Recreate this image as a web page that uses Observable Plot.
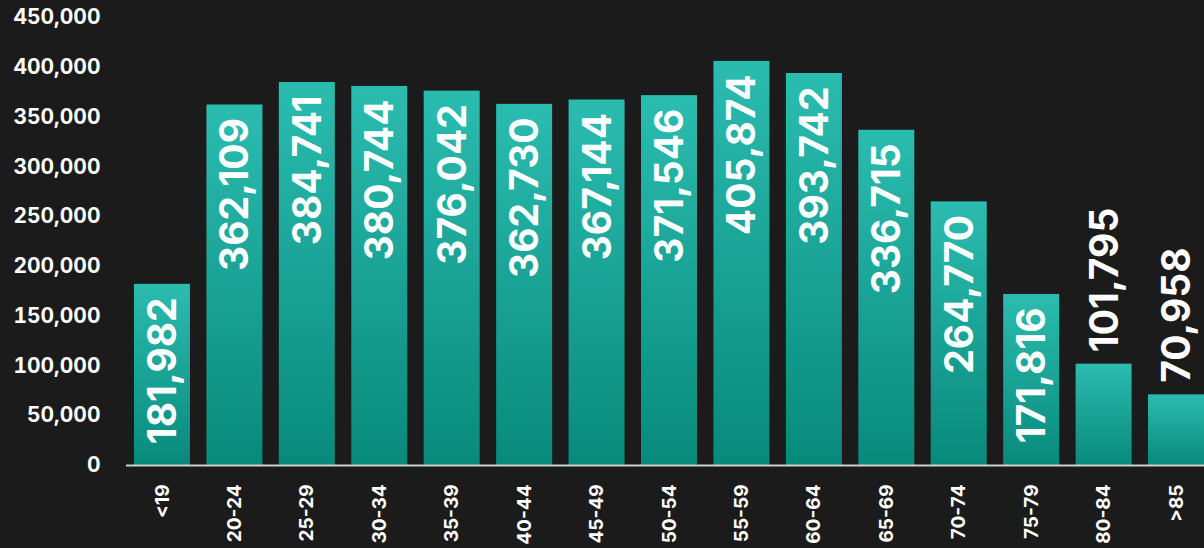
<!DOCTYPE html>
<html>
<head>
<meta charset="utf-8">
<script src="https://cdn.jsdelivr.net/npm/d3@7"></script>
<script src="https://cdn.jsdelivr.net/npm/@observablehq/plot@0.6"></script>
<style>
  html, body { margin: 0; padding: 0; background: #1b1b1b; overflow: hidden; }
  #chart svg { display: block; }
</style>
</head>
<body>
<div id="chart"></div>
<script>
const ageGroups = ["<19","20-24","25-29","30-34","35-39","40-44","45-49","50-54","55-59","60-64","65-69","70-74","75-79","80-84",">85"];
const counts = [181982,362109,384741,380744,376042,362730,367144,371546,405874,393742,336715,264770,171816,101795,70958];
const yTicks = [0,50000,100000,150000,200000,250000,300000,350000,400000,450000];

const data = ageGroups.map((g, i) => ({group: g, value: counts[i]}));
const fmt = d3.format(",");
const insideMin = 150000;
const inside = data.filter(d => d.value >= insideMin);
const outside = data.filter(d => d.value < insideMin);

const gradientDefs = () => {
  const defs = d3.create("svg:defs");
  const g = defs.append("linearGradient").attr("id", "barGrad")
    .attr("x1", 0).attr("y1", 0).attr("x2", 0).attr("y2", 1);
  g.append("stop").attr("offset", "0%").attr("stop-color", "#2bbcb0");
  g.append("stop").attr("offset", "100%").attr("stop-color", "#088a7b");
  return defs.node();
};

const chart = Plot.plot({
  width: 1204,
  height: 548,
  marginTop: 17,
  marginBottom: 83,
  marginLeft: 126,
  marginRight: 0,
  style: {background: "#1b1b1b", color: "#ffffff", fontFamily: "Inter, 'Liberation Sans', sans-serif", overflow: "hidden"},
  x: {domain: ageGroups, range: [126, 1212], paddingInner: 0.227, paddingOuter: 0.11, round: false},
  y: {domain: [0, 450000]},
  marks: [
    gradientDefs,
    Plot.barY(data, {x: "group", y: "value", fill: "url(#barGrad)"}),
    Plot.ruleY([0], {stroke: "#d0d0d0", strokeWidth: 2}),
    Plot.axisY({ticks: yTicks, tickSize: 0, tickPadding: 26, tickFormat: fmt, fontSize: 21, fontWeight: "bold", fill: "#ffffff", label: null}),
    Plot.axisX({tickSize: 0, tickRotate: -90, tickPadding: 19, fontSize: 19, fontWeight: "bold", fill: "#ffffff", label: null}),
    Plot.text(inside, {x: "group", y: "value", text: d => fmt(d.value), rotate: -90, textAnchor: "end", lineAnchor: "middle", dx: 1, dy: 13, fill: "#ffffff", fontSize: 39, fontWeight: "bold"}),
    Plot.text(outside, {x: "group", y: "value", text: d => fmt(d.value), rotate: -90, textAnchor: "start", lineAnchor: "middle", dx: 1, dy: -12, fill: "#ffffff", fontSize: 39, fontWeight: "bold"})
  ]
});
document.getElementById("chart").appendChild(chart);
</script>
</body>
</html>
